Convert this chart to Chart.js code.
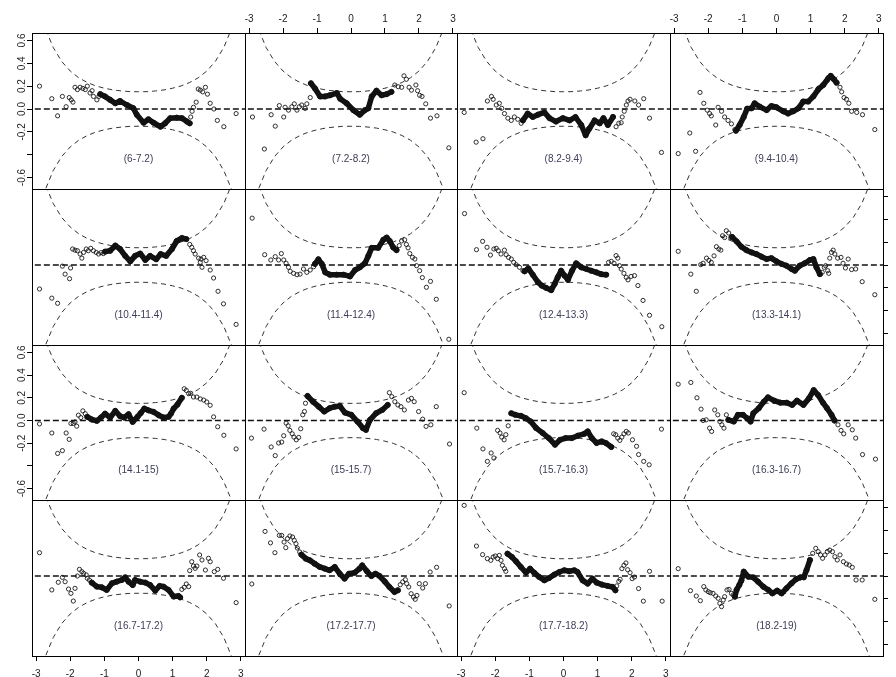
<!DOCTYPE html>
<html>
<head>
<meta charset="utf-8">
<script src="https://cdn.jsdelivr.net/npm/chart.js@4.4.1/dist/chart.umd.min.js"></script>
<style>
  html, body { margin: 0; padding: 0; background: #fff; }
  #wrap { position: relative; width: 896px; height: 677px; overflow: hidden; }
  #wrap canvas { position: absolute; left: 0; top: 0; }
</style>
</head>
<body>
<div id="wrap"></div>
<script>
// panel titles (age groups), row by row
const panelLabels = ['(6-7.2)', '(7.2-8.2)', '(8.2-9.4)', '(9.4-10.4)',
  '(10.4-11.4)', '(11.4-12.4)', '(12.4-13.3)', '(13.3-14.1)',
  '(14.1-15)', '(15-15.7)', '(15.7-16.3)', '(16.3-16.7)',
  '(16.7-17.2)', '(17.2-17.7)', '(17.7-18.2)', '(18.2-19)'];

const xTicks = [-3, -2, -1, 0, 1, 2, 3];
const yTicks = [-0.6, -0.4, -0.2, 0, 0.2, 0.4, 0.6];
const yTickLabels = ['-0.6', '', '-0.2', '0.0', '0.2', '0.4', '0.6'];

// 95% band of the worm plot (upper half, the lower one is its mirror)
const bandZ = [-3, -2.75, -2.5, -2.25, -2, -1.75, -1.5, -1.25, -1, -0.75, -0.5, -0.25, 0,
  0.25, 0.5, 0.75, 1, 1.25, 1.5, 1.75, 2, 2.25, 2.5, 2.75, 3];
const bandHi = [0.996, 0.720, 0.539, 0.416, 0.332, 0.273, 0.232, 0.202, 0.182, 0.167, 0.158, 0.152, 0.151,
  0.152, 0.158, 0.167, 0.182, 0.202, 0.232, 0.273, 0.332, 0.416, 0.539, 0.720, 0.996];

// [unit normal quantile, deviation] - dense middle of each worm
const core01 = [[-1.12,0.13],[-0.98,0.11],[-0.83,0.08],[-0.68,0.05],[-0.54,0.07],[-0.34,0.035],[-0.15,0.006],[-0.05,-0.05],[0.15,-0.12],[0.29,-0.09],[0.44,-0.12],[0.64,-0.155],[0.78,-0.125],[0.93,-0.08],[1.12,-0.076],[1.27,-0.08],[1.42,-0.11],[1.50,-0.125]];
const core02 = [[-1.18,0.225],[-1.06,0.18],[-0.91,0.11],[-0.76,0.11],[-0.62,0.12],[-0.42,0.14],[-0.32,0.09],[-0.13,0.05],[0.07,-0.01],[0.26,-0.05],[0.41,-0.01],[0.51,0.006],[0.61,0.11],[0.75,0.16],[0.90,0.12],[1.05,0.13],[1.19,0.15]];
const core03 = [[-1.19,-0.10],[-1.05,-0.04],[-0.90,-0.07],[-0.75,-0.05],[-0.56,-0.03],[-0.41,-0.08],[-0.22,-0.11],[-0.02,-0.08],[0.18,-0.10],[0.35,-0.07],[0.52,-0.14],[0.65,-0.23],[0.76,-0.17],[0.91,-0.10],[1.06,-0.125],[1.17,-0.08],[1.30,-0.14],[1.45,-0.07]];
const core04 = [[-1.19,-0.19],[-1.08,-0.14],[-0.96,-0.07],[-0.86,0.003],[-0.73,0.006],[-0.64,0.05],[-0.49,0.02],[-0.29,-0.01],[-0.15,0.026],[0,0.015],[0.20,-0.02],[0.34,-0.04],[0.49,-0.02],[0.64,0.006],[0.78,0.065],[0.93,0.065],[1.08,0.11],[1.22,0.17],[1.37,0.21],[1.52,0.27],[1.59,0.29],[1.68,0.26],[1.76,0.23]];
const core05 = [[-0.98,0.117],[-0.83,0.125],[-0.68,0.17],[-0.54,0.14],[-0.39,0.08],[-0.24,0.032],[-0.10,0.08],[0.05,0.10],[0.20,0.044],[0.34,0.08],[0.52,0.05],[0.65,0.096],[0.81,0.08],[0.98,0.14],[1.12,0.21],[1.27,0.236],[1.40,0.227]];
const core06 = [[-1.06,0.01],[-0.96,0.05],[-0.86,0.01],[-0.76,-0.064],[-0.62,-0.085],[-0.42,-0.085],[-0.22,-0.085],[-0.03,-0.10],[0.12,-0.044],[0.26,-0.02],[0.41,0.015],[0.51,0.08],[0.61,0.15],[0.80,0.15],[0.95,0.22],[1.05,0.24],[1.14,0.21],[1.24,0.155],[1.34,0.13]];
const core07 = [[-1.14,-0.055],[-1.03,-0.03],[-0.90,-0.085],[-0.75,-0.15],[-0.64,-0.18],[-0.51,-0.20],[-0.36,-0.22],[-0.26,-0.166],[-0.17,-0.108],[-0.07,-0.05],[0.03,-0.093],[0.13,-0.13],[0.25,-0.05],[0.37,0.015],[0.52,-0.02],[0.67,-0.035],[0.81,-0.05],[0.96,-0.064],[1.10,-0.08],[1.25,-0.085]];
const core08 = [[-1.30,0.245],[-1.17,0.207],[-1.03,0.16],[-0.88,0.13],[-0.73,0.11],[-0.59,0.096],[-0.44,0.073],[-0.29,0.052],[-0.15,0.06],[0,0.032],[0.15,0.009],[0.29,-0.006],[0.44,-0.035],[0.54,-0.05],[0.68,-0.006],[0.83,0.015],[0.98,0.044],[1.08,0.052],[1.17,-0.02],[1.27,-0.08]];
const core09 = [[-1.50,0.032],[-1.37,0.009],[-1.22,-0.003],[-1.10,0.026],[-0.98,0.06],[-0.83,0.026],[-0.68,0.085],[-0.54,0.038],[-0.42,0.026],[-0.29,0.055],[-0.17,-0.012],[-0.03,0.032],[0.07,0.067],[0.17,0.105],[0.29,0.09],[0.44,0.076],[0.59,0.047],[0.73,0.026],[0.88,0.032],[0.95,0.06],[1.03,0.105],[1.14,0.14],[1.27,0.20]];
const core10 = [[-1.28,0.216],[-1.12,0.166],[-0.95,0.122],[-0.79,0.079],[-0.63,0.108],[-0.48,0.122],[-0.33,0.128],[-0.18,0.07],[0.01,0.05],[0.19,-0.009],[0.35,-0.067],[0.44,-0.082],[0.56,0.006],[0.74,0.064],[0.92,0.093],[1.08,0.137]];
const core11 = [[-1.53,0.064],[-1.41,0.05],[-1.25,0.041],[-1.10,0.02],[-0.96,-0.009],[-0.80,-0.067],[-0.61,-0.11],[-0.43,-0.155],[-0.25,-0.213],[-0.10,-0.17],[0.06,-0.155],[0.24,-0.155],[0.42,-0.134],[0.61,-0.117],[0.71,-0.096],[0.83,-0.155],[0.97,-0.198],[1.12,-0.184],[1.24,-0.198],[1.40,-0.233]];
const core12 = [[-1.41,0.006],[-1.25,-0.009],[-1.13,0.05],[-0.98,0.05],[-0.86,0.02],[-0.76,-0.009],[-0.68,0.064],[-0.52,0.108],[-0.37,0.166],[-0.25,0.204],[-0.07,0.175],[0.11,0.157],[0.30,0.157],[0.46,0.137],[0.60,0.175],[0.79,0.137],[0.95,0.195],[1.09,0.268],[1.22,0.224],[1.36,0.157],[1.48,0.108],[1.61,0.05],[1.70,0.0]];
const core13 = [[-1.37,-0.058],[-1.22,-0.093],[-1.08,-0.099],[-0.93,-0.122],[-0.78,-0.064],[-0.64,-0.05],[-0.49,-0.035],[-0.39,-0.012],[-0.29,-0.05],[-0.17,-0.079],[-0.10,-0.035],[0.05,-0.05],[0.20,-0.058],[0.34,-0.079],[0.49,-0.128],[0.62,-0.087],[0.73,-0.093],[0.88,-0.122],[1.03,-0.18],[1.17,-0.175],[1.22,-0.187]];
const core14 = [[-1.46,0.187],[-1.33,0.152],[-1.21,0.137],[-1.07,0.108],[-0.92,0.079],[-0.77,0.064],[-0.63,0.05],[-0.48,0.079],[-0.33,0.02],[-0.19,-0.023],[-0.06,0.02],[0.11,0.029],[0.25,0.064],[0.33,0.093],[0.47,0.041],[0.60,0.0],[0.72,0.02],[0.84,0.0],[0.99,-0.047],[1.13,-0.096],[1.28,-0.14],[1.38,-0.125]];
const core15 = [[-1.64,0.195],[-1.51,0.166],[-1.39,0.128],[-1.25,0.079],[-1.10,0.029],[-0.98,0.064],[-0.86,0.029],[-0.71,-0.009],[-0.56,-0.038],[-0.42,-0.017],[-0.27,0.012],[-0.12,0.035],[0.02,0.05],[0.17,0.041],[0.32,0.05],[0.41,0.035],[0.56,-0.038],[0.71,-0.067],[0.85,-0.023],[0.97,-0.058],[1.13,-0.076],[1.29,-0.087],[1.44,-0.096],[1.52,-0.125]];
const core16 = [[-1.22,-0.181],[-1.17,-0.122],[-1.09,-0.079],[-1.03,-0.041],[-0.96,0.038],[-0.83,-0.006],[-0.68,-0.012],[-0.54,-0.05],[-0.39,-0.093],[-0.24,-0.122],[-0.12,-0.152],[0.02,-0.128],[0.15,-0.152],[0.29,-0.108],[0.44,-0.064],[0.57,-0.029],[0.70,-0.012],[0.80,-0.012],[0.88,0.052],[0.98,0.14]];

// separate points in the tails of each worm
const loose01 = [[-2.90,0.20],[-2.54,0.09],[-2.37,-0.06],[-2.23,0.11],[-2.12,0.02],[-2.03,0.10],[-1.97,0.08],[-1.92,0.06],[-1.86,0.19],[-1.79,0.17],[-1.71,0.19],[-1.63,0.18],[-1.56,0.17],[-1.50,0.20],[-1.42,0.14],[-1.36,0.16],[-1.32,0.11],[-1.22,0.08],[-1.16,0.11],[1.53,-0.07],[1.57,-0.02],[1.61,0.015],[1.69,0.06],[1.75,0.175],[1.81,0.165],[1.88,0.15],[1.96,0.19],[2.02,0.13],[2.10,0.05],[2.21,0.0],[2.31,-0.10],[2.50,-0.155],[2.86,-0.04]];
const loose02 = [[-2.90,-0.07],[-2.55,-0.35],[-2.35,-0.05],[-2.23,-0.15],[-2.11,0.03],[-1.98,-0.07],[-1.94,0.015],[-1.84,-0.01],[-1.74,0.02],[-1.67,0.045],[-1.59,-0.01],[-1.52,0.02],[-1.45,0.035],[-1.35,0.005],[-1.30,0.045],[-1.20,0.10],[1.29,0.21],[1.39,0.195],[1.49,0.19],[1.56,0.29],[1.63,0.26],[1.71,0.19],[1.78,0.165],[1.91,0.21],[1.96,0.16],[2.02,0.12],[2.09,0.11],[2.20,0.045],[2.34,-0.08],[2.53,-0.06],[2.88,-0.34]];
const loose03 = [[-2.91,-0.03],[-2.56,-0.29],[-2.36,-0.26],[-2.23,0.07],[-2.11,0.11],[-2.06,0.085],[-1.97,0.035],[-1.88,0.05],[-1.81,0.006],[-1.73,-0.04],[-1.63,-0.08],[-1.53,-0.10],[-1.44,-0.07],[-1.34,-0.09],[-1.24,-0.125],[1.54,-0.155],[1.62,-0.125],[1.69,-0.12],[1.72,-0.07],[1.78,-0.02],[1.84,0.035],[1.89,0.07],[1.95,0.085],[2.09,0.07],[2.20,0.035],[2.35,0.09],[2.52,-0.08],[2.87,-0.38]];
const loose04 = [[-2.88,-0.39],[-2.54,-0.21],[-2.37,-0.37],[-2.24,0.145],[-2.13,0.05],[-2.03,-0.01],[-1.96,-0.04],[-1.91,-0.06],[-1.78,-0.14],[-1.71,0.015],[-1.61,-0.02],[-1.52,-0.07],[-1.42,-0.10],[-1.32,-0.13],[-1.22,-0.18],[1.86,0.19],[1.91,0.15],[1.98,0.10],[2.05,0.085],[2.12,0.05],[2.20,-0.02],[2.35,-0.03],[2.52,-0.05],[2.88,-0.18]];
const loose05 = [[-2.90,-0.21],[-2.54,-0.29],[-2.37,-0.335],[-2.23,-0.01],[-2.15,-0.08],[-2.02,-0.12],[-1.99,-0.026],[-1.93,0.14],[-1.86,0.13],[-1.79,0.125],[-1.71,0.096],[-1.66,0.06],[-1.61,0.11],[-1.53,0.14],[-1.47,0.125],[-1.40,0.146],[-1.32,0.125],[-1.24,0.11],[-1.17,0.096],[-1.10,0.108],[-1.03,0.10],[1.50,0.18],[1.56,0.155],[1.61,0.125],[1.66,0.096],[1.76,0.06],[1.83,0.052],[1.91,0.067],[1.81,0.023],[1.86,-0.02],[1.98,0.038],[2.10,-0.044],[2.20,-0.114],[2.33,-0.23],[2.49,-0.34],[2.86,-0.52]];
const loose06 = [[-2.91,0.41],[-2.54,0.09],[-2.36,0.044],[-2.23,0.073],[-2.13,0.044],[-2.05,0.10],[-1.98,0.044],[-1.91,0.015],[-1.84,-0.02],[-1.79,-0.055],[-1.69,-0.073],[-1.59,-0.085],[-1.50,-0.08],[-1.40,-0.035],[-1.30,-0.064],[-1.20,-0.044],[-1.10,-0.015],[1.42,0.17],[1.49,0.21],[1.58,0.22],[1.63,0.18],[1.68,0.15],[1.73,0.10],[1.81,0.067],[1.88,0.052],[1.93,-0.006],[2.02,-0.05],[2.10,-0.11],[2.22,-0.195],[2.34,-0.143],[2.51,-0.30],[2.88,-0.65]];
const loose07 = [[-2.90,0.45],[-2.55,0.134],[-2.37,0.207],[-2.24,0.155],[-2.14,0.087],[-2.04,0.14],[-1.97,0.146],[-1.91,0.125],[-1.83,0.096],[-1.73,0.13],[-1.68,0.09],[-1.61,0.067],[-1.53,0.052],[-1.46,0.023],[-1.39,0.003],[-1.29,-0.02],[-1.19,-0.05],[1.32,0.023],[1.40,0.032],[1.48,0.015],[1.54,0.082],[1.59,0.06],[1.64,-0.006],[1.69,-0.035],[1.77,-0.073],[1.84,-0.108],[1.89,-0.13],[1.98,-0.10],[2.08,-0.093],[2.18,-0.18],[2.33,-0.31],[2.52,-0.44],[2.88,-0.54]];
const loose08 = [[-2.88,0.12],[-2.51,-0.08],[-2.35,-0.23],[-2.22,0.003],[-2.15,0.015],[-2.05,0.06],[-1.98,0.04],[-1.91,0.023],[-1.83,0.08],[-1.76,0.16],[-1.69,0.14],[-1.63,0.13],[-1.58,0.256],[-1.52,0.24],[-1.47,0.30],[-1.40,0.28],[-1.34,0.24],[1.34,-0.064],[1.40,-0.02],[1.44,-0.006],[1.50,-0.05],[1.53,-0.073],[1.56,0.06],[1.61,0.11],[1.66,0.13],[1.71,0.096],[1.79,0.06],[1.89,0.067],[1.95,0.015],[2.02,-0.026],[2.10,0.052],[2.20,-0.04],[2.32,-0.035],[2.51,-0.146],[2.88,-0.26]];
const loose09 = [[-2.90,-0.03],[-2.54,-0.11],[-2.37,-0.29],[-2.23,-0.265],[-2.12,-0.11],[-2.03,-0.166],[-1.98,-0.026],[-1.91,-0.026],[-1.86,-0.012],[-1.81,-0.05],[-1.76,0.047],[-1.69,0.026],[-1.63,0.085],[-1.56,0.06],[1.34,0.28],[1.40,0.265],[1.47,0.236],[1.53,0.24],[1.61,0.207],[1.71,0.207],[1.81,0.19],[1.91,0.18],[2.00,0.163],[2.10,0.134],[2.20,0.032],[2.32,-0.055],[2.50,-0.13],[2.86,-0.25]];
const loose10 = [[-2.93,-0.155],[-2.56,-0.076],[-2.35,-0.233],[-2.23,-0.309],[-2.13,-0.198],[-2.04,-0.19],[-1.98,-0.134],[-1.91,-0.023],[-1.85,-0.047],[-1.80,-0.087],[-1.73,-0.117],[-1.68,-0.146],[-1.61,-0.17],[-1.54,-0.149],[-1.48,-0.073],[-1.42,0.05],[-1.37,0.079],[-1.34,0.152],[1.13,0.245],[1.20,0.21],[1.29,0.166],[1.38,0.137],[1.47,0.122],[1.57,0.093],[1.69,0.18],[1.78,0.195],[1.86,0.166],[1.99,0.079],[2.11,0.012],[2.21,-0.052],[2.35,-0.038],[2.51,0.122],[2.90,-0.207]];
const loose11 = [[-2.91,0.245],[-2.54,-0.067],[-2.36,-0.25],[-2.23,-0.36],[-2.12,-0.286],[-2.04,-0.33],[-1.93,-0.087],[-1.86,-0.11],[-1.81,-0.146],[-1.74,-0.17],[-1.69,-0.125],[-1.62,-0.047],[1.47,-0.117],[1.53,-0.125],[1.59,-0.155],[1.65,-0.175],[1.71,-0.146],[1.77,-0.117],[1.84,-0.096],[1.90,-0.11],[2.02,-0.17],[2.14,-0.227],[2.20,-0.30],[2.35,-0.36],[2.51,-0.39],[2.87,-0.076]];
const loose12 = [[-2.88,0.32],[-2.51,0.335],[-2.33,0.20],[-2.21,0.10],[-2.15,0.0],[-2.06,0.006],[-1.96,-0.067],[-1.90,-0.096],[-1.81,0.093],[-1.72,0.05],[-1.66,-0.009],[-1.60,-0.038],[-1.54,-0.067],[-1.47,0.05],[1.80,-0.038],[1.89,-0.087],[1.97,-0.117],[2.10,-0.038],[2.22,-0.082],[2.32,-0.155],[2.52,-0.30],[2.90,-0.34]];
const loose13 = [[-2.90,0.204],[-2.54,-0.122],[-2.35,-0.055],[-2.23,-0.012],[-2.15,-0.05],[-2.05,-0.114],[-1.98,-0.152],[-1.91,-0.219],[-1.86,-0.108],[-1.79,0.0],[-1.73,0.058],[-1.66,0.038],[-1.61,0.023],[-1.53,0.009],[-1.50,-0.02],[-1.44,-0.035],[1.27,-0.117],[1.34,-0.099],[1.40,-0.07],[1.47,-0.093],[1.50,0.047],[1.56,0.125],[1.61,0.087],[1.66,0.067],[1.71,0.087],[1.79,0.184],[1.86,0.14],[1.96,0.052],[2.05,0.155],[2.10,0.125],[2.22,0.038],[2.32,0.058],[2.49,-0.02],[2.86,-0.233]];
const loose14 = [[-2.92,-0.07],[-2.53,0.39],[-2.37,0.29],[-2.24,0.204],[-2.11,0.355],[-2.04,0.355],[-1.97,0.297],[-1.92,0.248],[-1.87,0.327],[-1.80,0.35],[-1.72,0.341],[-1.67,0.312],[-1.62,0.283],[-1.58,0.245],[-1.51,0.21],[1.45,-0.076],[1.52,-0.052],[1.60,-0.032],[1.64,-0.067],[1.70,-0.096],[1.77,-0.155],[1.84,-0.184],[1.89,-0.204],[1.94,-0.17],[2.01,-0.067],[2.11,-0.105],[2.19,-0.067],[2.33,0.035],[2.52,0.076],[2.89,-0.262]];
const loose15 = [[-2.91,0.618],[-2.55,0.262],[-2.37,0.187],[-2.23,0.152],[-2.13,0.137],[-2.06,0.166],[-2.00,0.175],[-1.93,0.152],[-1.88,0.18],[-1.83,0.137],[-1.79,0.093],[-1.73,0.064],[-1.69,0.041],[1.56,-0.087],[1.62,-0.047],[1.66,-0.029],[1.71,0.064],[1.77,0.093],[1.83,0.114],[1.88,0.055],[1.95,0.029],[2.01,-0.023],[2.08,-0.009],[2.20,-0.11],[2.34,-0.22],[2.52,0.041],[2.89,-0.22]];
const loose16 = [[-2.88,0.064],[-2.52,-0.128],[-2.35,-0.175],[-2.23,-0.216],[-2.13,-0.093],[-2.07,-0.122],[-2.00,-0.137],[-1.94,-0.146],[-1.86,-0.152],[-1.78,-0.175],[-1.71,-0.195],[-1.66,-0.239],[-1.61,-0.268],[-1.56,-0.21],[-1.52,-0.181],[-1.45,-0.122],[-1.39,-0.117],[-1.32,-0.152],[-1.27,-0.166],[1.06,0.198],[1.15,0.242],[1.22,0.213],[1.29,0.184],[1.35,0.155],[1.42,0.184],[1.49,0.213],[1.56,0.227],[1.64,0.213],[1.71,0.169],[1.78,0.14],[1.86,0.184],[1.96,0.125],[2.05,0.105],[2.13,0.096],[2.22,0.076],[2.33,-0.035],[2.51,-0.035],[2.88,-0.204]];

const cores = [core01, core02, core03, core04, core05, core06, core07, core08,
  core09, core10, core11, core12, core13, core14, core15, core16];
const looses = [loose01, loose02, loose03, loose04, loose05, loose06, loose07, loose08,
  loose09, loose10, loose11, loose12, loose13, loose14, loose15, loose16];

// page layout
const W = 896, H = 677;
const colEdges = [32, 245, 457, 670, 883];
const rowEdges = [33, 189, 345, 500, 656];
const topH = 30, botH = 21, leftW = 32, rightW = 13;

Chart.defaults.font.family = '"Liberation Sans", Arial, Helvetica, sans-serif';
Chart.defaults.font.size = 10;

const toXY = arr => arr.map(p => ({x: p[0], y: p[1]}));

const panelPlugin = {
  id: 'panel',
  afterDatasetsDraw(chart, args, opts) {
    const {ctx, chartArea: a, scales: {x, y}} = chart;
    ctx.save();
    ctx.strokeStyle = '#000';
    ctx.lineWidth = 1;
    const l = Math.round(a.left), t = Math.round(a.top);
    ctx.strokeRect(l + 0.5, t + 0.5, Math.round(a.right) - l, Math.round(a.bottom) - t);
    ctx.font = '10px "Liberation Sans", Arial, sans-serif';
    ctx.fillStyle = '#3c3c58';
    ctx.textAlign = 'center';
    ctx.textBaseline = 'middle';
    ctx.fillText(opts.label, x.getPixelForValue(0), y.getPixelForValue(-0.44));
    ctx.restore();
  }
};

const wrap = document.getElementById('wrap');

panelLabels.forEach((label, i) => {
  const row = Math.floor(i / 4), col = i % 4;
  const L = colEdges[col], R = colEdges[col + 1];
  const T = rowEdges[row], B = rowEdges[row + 1];
  const showTop = row === 0 && col % 2 === 1;
  const showBottom = row === 3 && col % 2 === 0;
  const showLeft = col === 0 && row % 2 === 0;
  const showRight = col === 3 && row % 2 === 1;
  const xSize = showTop ? topH : (showBottom ? botH : 0);
  const ySize = showLeft ? leftW : (showRight ? rightW : 0);

  const canvas = document.createElement('canvas');
  canvas.width = W;
  canvas.height = H;
  wrap.appendChild(canvas);

  new Chart(canvas, {
    type: 'scatter',
    data: {
      datasets: [
        {
          data: toXY(cores[i]), showLine: true, borderColor: '#111', borderWidth: 5.5,
          borderJoinStyle: 'round', borderCapStyle: 'round', tension: 0, clip: 0,
          pointRadius: 2.6, pointBorderWidth: 1, pointBorderColor: '#111',
          pointBackgroundColor: 'rgba(0,0,0,0)'
        },
        {
          data: toXY(looses[i]), pointRadius: 2.1, pointBorderWidth: 0.9,
          pointBorderColor: '#1a1a1a', pointBackgroundColor: 'rgba(0,0,0,0)', clip: 0
        },
        {
          data: [{x: -3.3, y: 0}, {x: 3.3, y: 0}], showLine: true, borderColor: '#111',
          borderWidth: 1.3, borderDash: [6, 3], pointRadius: 0, clip: 0
        },
        {
          data: bandZ.map((z, k) => ({x: z, y: bandHi[k]})), showLine: true, borderColor: '#333',
          borderWidth: 1, borderDash: [5, 4], pointRadius: 0, tension: 0, clip: 0
        },
        {
          data: bandZ.map((z, k) => ({x: z, y: -bandHi[k]})), showLine: true, borderColor: '#333',
          borderWidth: 1, borderDash: [5, 4], pointRadius: 0, tension: 0, clip: 0
        }
      ]
    },
    options: {
      responsive: false,
      animation: false,
      events: [],
      layout: {
        padding: {
          left: L - (showLeft ? leftW : 0),
          right: W - R - (showRight ? rightW : 0),
          top: T - (showTop ? topH : 0),
          bottom: H - B - (showBottom ? botH : 0)
        }
      },
      plugins: {
        legend: {display: false},
        tooltip: {enabled: false},
        panel: {label: label}
      },
      scales: {
        x: {
          type: 'linear',
          display: showTop || showBottom,
          position: showTop ? 'top' : 'bottom',
          min: -3.12, max: 3.12,
          afterBuildTicks: s => { s.ticks = xTicks.map(v => ({value: v})); },
          afterFit: s => { s.height = xSize; },
          border: {display: false},
          grid: {drawOnChartArea: false, tickLength: 5, color: '#000'},
          ticks: {
            color: '#222', padding: showTop ? 3 : 7, autoSkip: false, maxRotation: 0,
            callback: v => String(v)
          }
        },
        y: {
          type: 'linear',
          display: showLeft || showRight,
          position: showRight ? 'right' : 'left',
          min: -0.70, max: 0.665,
          afterBuildTicks: s => { s.ticks = yTicks.map(v => ({value: v})); },
          afterFit: s => { s.width = ySize; },
          border: {display: false},
          grid: {drawOnChartArea: false, tickLength: 5, color: '#000'},
          ticks: {
            display: showLeft, color: '#222', padding: -4, autoSkip: false,
            minRotation: 90, maxRotation: 90, crossAlign: 'center',
            callback: (v, idx) => yTickLabels[idx]
          }
        }
      }
    },
    plugins: [panelPlugin]
  });
});
</script>
</body>
</html>
